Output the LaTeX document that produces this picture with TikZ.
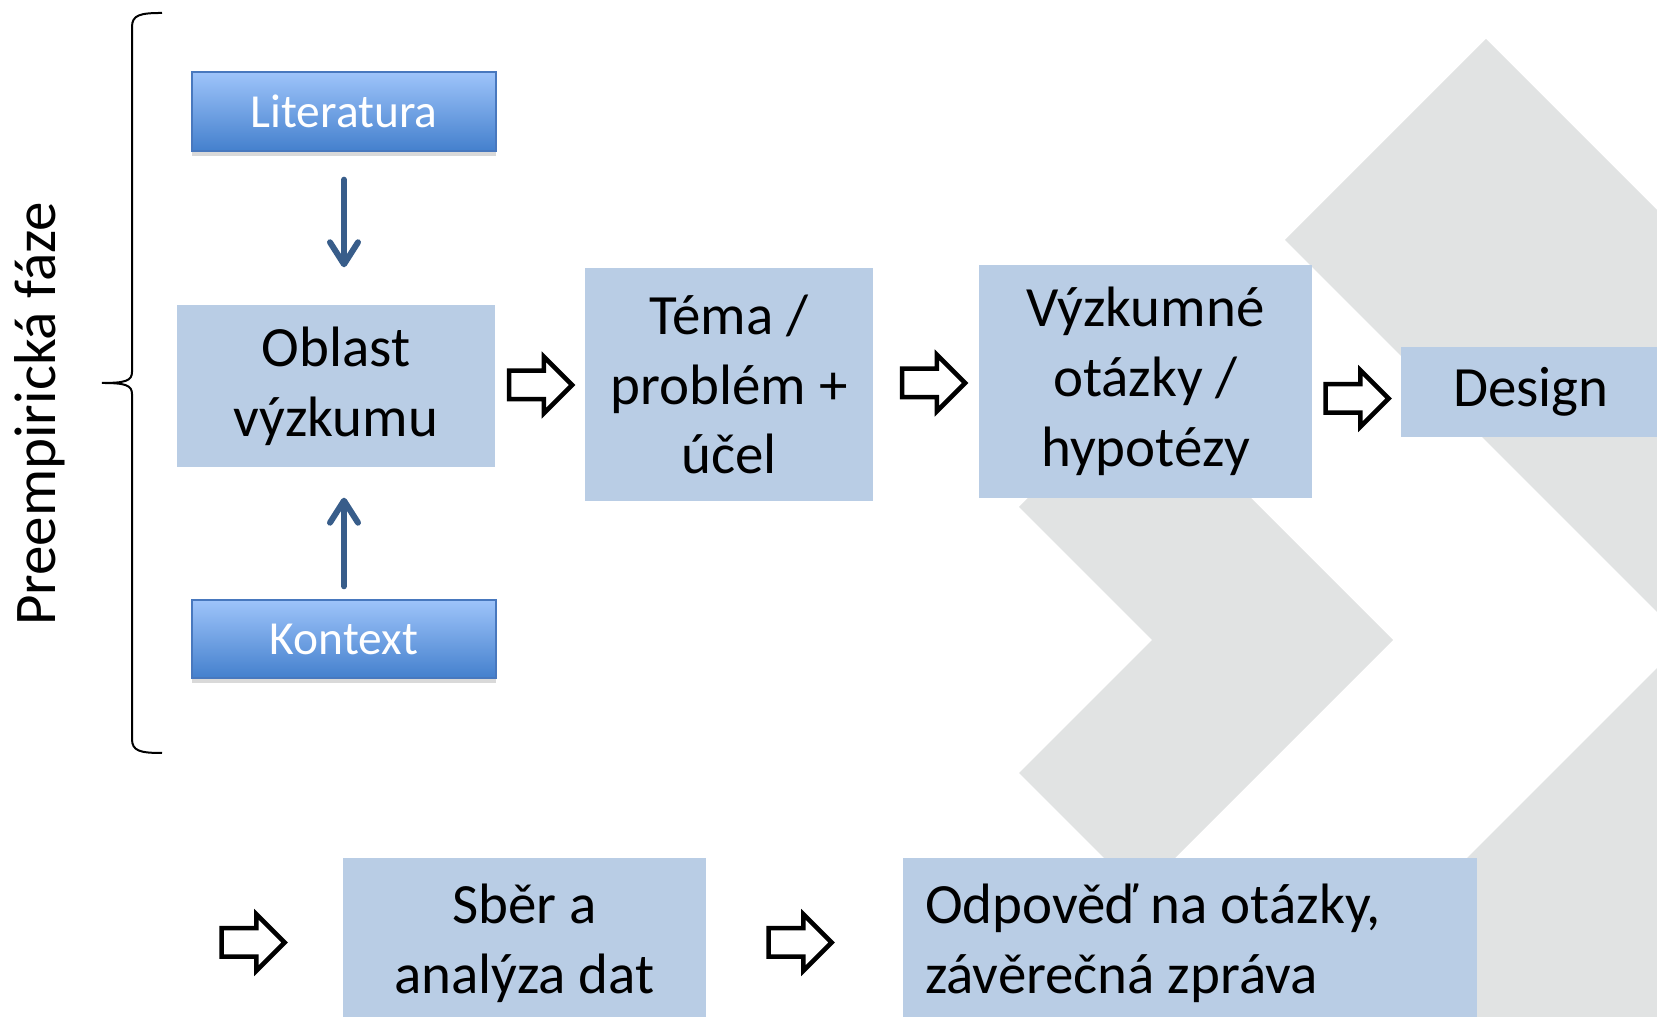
\documentclass[tikz,border=0pt]{standalone}
\usepackage{fontspec}
\setmainfont{Carlito}
\usetikzlibrary{arrows.meta, shapes.arrows, shadows}

\definecolor{boxblue}{RGB}{185,205,229}
\definecolor{chevgray}{RGB}{225,227,227}
\definecolor{gradtop}{RGB}{158,196,250}
\definecolor{gradbot}{RGB}{68,128,205}
\definecolor{gradline}{RGB}{72,120,190}
\definecolor{feedblue}{RGB}{56,93,138}

\begin{document}
\begin{tikzpicture}[
    stage/.style={fill=boxblue, align=center, inner sep=0pt, font=\fontsize{16.2pt}{19.9pt}\selectfont},
    source/.style={draw=gradline, line width=0.4pt, top color=gradtop, bottom color=gradbot, text=white,
        minimum width=3.04cm, inner sep=0pt, font=\fontsize{13.5pt}{16pt}\selectfont,
        drop shadow={shadow xshift=0pt, shadow yshift=-0.05cm, opacity=0.3}},
    hollow/.style={single arrow, draw=black, line width=0.045cm, inner sep=0pt, text height=0.12cm, text depth=0.12cm,
        minimum height=0.63cm, single arrow head extend=0.14cm},
    feed/.style={draw=feedblue, line width=0.06cm, line cap=round, -{Straight Barb[round, length=0.22cm, width=0.28cm]}}
]
    \useasboundingbox (0,0) rectangle (16.57,10.17);
    \clip (0,0) rectangle (16.57,10.17);

    \fill[chevgray] (10.19,5.10) -- (11.395,6.305) -- (13.93,3.77) -- (11.395,1.235) -- (10.19,2.44) -- (11.52,3.77) -- cycle;
    \fill[chevgray] (12.85,7.77) -- (14.86,9.78) -- (20.87,3.77) -- (14.86,-2.24) -- (12.85,-0.23) -- (16.85,3.77) -- cycle;

    \node[source, minimum height=0.79cm] (lit) at (3.44,9.055) {Literatura};
    \node[source, minimum height=0.78cm] (ctx) at (3.44,3.78) {Kontext};
    \node[stage, minimum width=3.18cm, minimum height=1.62cm] (area) at (3.36,6.31) {Oblast\\výzkumu};
    \node[stage, minimum width=2.88cm, minimum height=2.33cm] (topic) at (7.29,6.325) {Téma /\\problém +\\účel};
    \node[stage, minimum width=3.33cm, minimum height=2.33cm] (rq) at (11.455,6.355) {Výzkumné\\otázky /\\hypotézy};
    \node[stage, minimum width=2.60cm, minimum height=0.90cm] (design) at (15.31,6.25) {Design};
    \node[stage, minimum width=3.63cm, minimum height=1.71cm] (data) at (5.245,0.735) {Sběr a\\analýza dat};
    \node[stage, align=flush left, text width=5.30cm, inner xsep=0.22cm, minimum height=1.71cm] (report) at (11.90,0.735) {Odpověď na otázky,\\závěrečná zpráva};

    \draw[feed, shorten <=0.28cm, shorten >=0.37cm] (lit.south) -- (lit.south |- area.north);
    \draw[feed, shorten <=0.13cm, shorten >=0.30cm] (ctx.north) -- (ctx.north |- area.south);

    \node[hollow] (go1) at (5.335,6.32) {};
    \node[hollow] (go2) at (9.265,6.34) {};
    \node[hollow] (go3) at (13.50,6.185) {};
    \node[hollow] (go4) at (2.46,0.745) {};
    \node[hollow] (go5) at (7.93,0.745) {};

    \draw[line width=0.02cm] (1.62,10.04) .. controls (1.40,10.04) and (1.32,10.02) .. (1.32,9.90) -- (1.32,6.45)
        .. controls (1.32,6.36) and (1.25,6.34) .. (1.02,6.34) .. controls (1.25,6.34) and (1.32,6.32) .. (1.32,6.23)
        -- (1.32,2.78) .. controls (1.32,2.66) and (1.40,2.64) .. (1.62,2.64);
    \node[rotate=90, font=\fontsize{16.8pt}{20pt}\selectfont] (phase) at (0.40,6.03) {Preempirická fáze};
\end{tikzpicture}
\end{document}
